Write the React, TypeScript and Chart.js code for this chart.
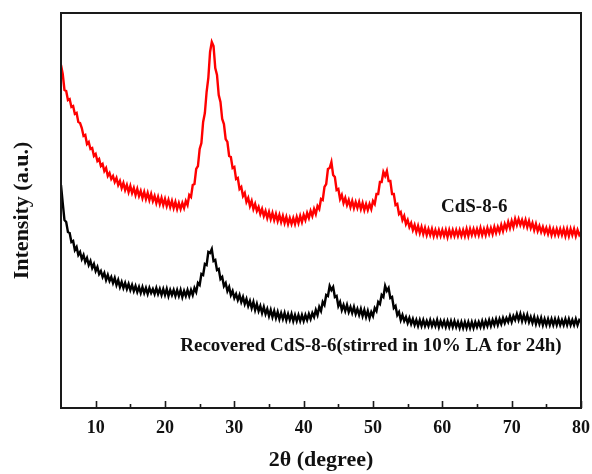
import React, { useEffect, useRef } from "react";
import { Chart, registerables } from "chart.js";

Chart.register(...registerables);

// 2θ grid (degree): scan from 5° to 80° in 0.25° steps
const ANGLE_START = 5;
const ANGLE_STEP = 0.25;

// CdS-8-6 (red) intensity, a.u., 4 points per degree
const cdsIntensity = [
  343, 334, 318, 317, 308, 309, 301, 302, 294, 295, 286, 285, 280, 272, 273, 264,
  266, 259, 260, 252, 254, 247, 249, 242, 244, 237, 240, 232, 235, 229, 232, 226,
  230, 223, 227, 220, 225, 218, 223, 216, 222, 215, 220, 213, 219, 212, 217, 210,
  216, 209, 215, 208, 214, 207, 212, 205, 211, 204, 210, 203, 209, 202, 208, 201,
  207, 200, 206, 199, 205, 199, 205, 200, 207, 203, 213, 211, 223, 224, 239, 242,
  259, 265, 286, 295, 316, 330, 356, 366, 362, 340, 333, 313, 306, 289, 284, 269,
  266, 252, 251, 240, 241, 229, 230, 219, 221, 212, 215, 206, 210, 202, 207, 199,
  204, 197, 201, 194, 199, 192, 197, 190, 196, 189, 195, 188, 194, 187, 193, 186,
  192, 185, 191, 184, 190, 184, 190, 184, 191, 185, 192, 186, 193, 188, 195, 190,
  197, 192, 199, 194, 202, 199, 209, 208, 221, 224, 239, 240, 246, 233, 231, 218,
  219, 209, 213, 205, 210, 203, 208, 201, 207, 200, 206, 200, 206, 199, 205, 198,
  204, 198, 204, 199, 207, 204, 214, 214, 226, 226, 236, 232, 237, 227, 227, 214,
  214, 203, 204, 194, 196, 188, 192, 184, 188, 181, 185, 178, 183, 176, 182, 175,
  181, 174, 180, 173, 179, 173, 179, 172, 178, 172, 178, 172, 178, 172, 178, 171,
  178, 172, 178, 172, 178, 172, 178, 172, 178, 172, 179, 172, 179, 173, 179, 173,
  179, 173, 180, 173, 179, 173, 180, 174, 180, 174, 181, 175, 181, 176, 183, 177,
  184, 179, 186, 180, 187, 181, 189, 183, 189, 183, 188, 182, 188, 181, 187, 180,
  185, 178, 184, 177, 182, 176, 181, 175, 180, 174, 180, 173, 179, 173, 179, 173,
  179, 173, 179, 172, 179, 172, 179, 173, 179, 172, 178, 173, 176,
];

// Recovered CdS-8-6 (black) intensity, a.u.
const recoveredIntensity = [
  223, 205, 188, 186, 176, 175, 166, 167, 158, 161, 153, 156, 149, 153, 146, 150,
  143, 147, 140, 144, 137, 141, 134, 137, 131, 135, 128, 133, 127, 131, 125, 130,
  123, 128, 121, 126, 120, 125, 119, 124, 118, 123, 117, 122, 116, 121, 115, 121,
  115, 120, 114, 120, 115, 119, 114, 120, 114, 119, 113, 119, 113, 119, 112, 118,
  113, 118, 112, 118, 112, 118, 111, 117, 112, 118, 112, 118, 113, 120, 116, 125,
  123, 134, 133, 144, 143, 156, 155, 159, 147, 148, 138, 139, 129, 131, 122, 125,
  117, 121, 113, 117, 110, 114, 108, 113, 106, 111, 104, 109, 102, 107, 100, 106,
  98, 104, 97, 102, 95, 101, 94, 99, 92, 98, 91, 97, 90, 96, 89, 95,
  89, 95, 88, 94, 88, 94, 87, 93, 87, 93, 87, 93, 87, 93, 88, 94,
  89, 95, 91, 98, 93, 101, 97, 106, 103, 113, 112, 122, 118, 121, 111, 112,
  102, 106, 98, 103, 97, 103, 96, 101, 95, 101, 94, 99, 93, 99, 92, 98,
  91, 97, 90, 96, 92, 100, 97, 106, 104, 113, 111, 122, 117, 120, 110, 111,
  100, 102, 93, 96, 88, 93, 87, 91, 85, 90, 84, 89, 83, 88, 82, 88,
  82, 88, 82, 87, 82, 88, 82, 87, 82, 88, 81, 87, 82, 87, 81, 87,
  81, 87, 81, 87, 81, 86, 80, 86, 80, 86, 80, 86, 80, 86, 80, 86,
  81, 86, 81, 87, 81, 87, 82, 88, 82, 88, 83, 89, 83, 89, 84, 90,
  85, 90, 86, 92, 86, 92, 88, 94, 88, 94, 87, 93, 87, 93, 86, 91,
  85, 91, 84, 90, 84, 90, 83, 89, 83, 89, 83, 89, 83, 89, 83, 89,
  83, 88, 83, 89, 83, 89, 83, 88, 83, 89, 83, 88, 86,
];

const seriesNames = ["CdS-8-6", "Recovered CdS-8-6(stirred in 10% LA for 24h)"];
const seriesColors = ["#ff0000", "#000000"];

const majorTicks = [10, 20, 30, 40, 50, 60, 70, 80];
const minorTicks = [15, 25, 35, 45, 55, 65, 75];

// label anchors in data units (2θ, intensity) – left / middle aligned
const labelAngles = [59.8, 22.2];
const labelIntensities = [201, 62];

const X_MIN = 5;
const X_MAX = 80;
const Y_MIN = 0;
const Y_MAX = 395;

const FONT = "'Liberation Serif', 'Times New Roman', Times, serif";

export default function App() {
  const canvasRef = useRef<HTMLCanvasElement | null>(null);

  useEffect(() => {
    const canvas = canvasRef.current;
    if (!canvas) return;

    const toPoints = (arr: number[]) =>
      arr.map((v, i) => ({ x: ANGLE_START + i * ANGLE_STEP, y: v }));

    const framePlugin = {
      id: "frameAndLabels",
      afterDatasetsDraw(chart: any) {
        const { ctx, chartArea } = chart;
        const xs = chart.scales.x;
        const ys = chart.scales.y;
        ctx.save();
        // frame
        ctx.strokeStyle = "#1a1a1a";
        ctx.lineWidth = 2;
        ctx.strokeRect(
          chartArea.left,
          chartArea.top,
          chartArea.right - chartArea.left,
          chartArea.bottom - chartArea.top
        );
        // inward ticks
        ctx.lineWidth = 1.6;
        ctx.beginPath();
        majorTicks.forEach((v) => {
          const px = Math.round(xs.getPixelForValue(v)) + 0.5;
          ctx.moveTo(px, chartArea.bottom);
          ctx.lineTo(px, chartArea.bottom - 7);
        });
        minorTicks.forEach((v) => {
          const px = Math.round(xs.getPixelForValue(v)) + 0.5;
          ctx.moveTo(px, chartArea.bottom);
          ctx.lineTo(px, chartArea.bottom - 4);
        });
        ctx.stroke();
        // series labels
        ctx.fillStyle = "#111";
        ctx.font = `bold 19px ${FONT}`;
        ctx.textAlign = "left";
        ctx.textBaseline = "middle";
        seriesNames.forEach((name, i) => {
          ctx.fillText(
            name,
            xs.getPixelForValue(labelAngles[i]),
            ys.getPixelForValue(labelIntensities[i])
          );
        });
        ctx.restore();
      },
    };

    const chart = new Chart(canvas, {
      type: "line",
      data: {
        datasets: [
          {
            label: seriesNames[0],
            data: toPoints(cdsIntensity),
            borderColor: seriesColors[0],
            borderWidth: 2.4,
            pointRadius: 0,
            tension: 0,
          },
          {
            label: seriesNames[1],
            data: toPoints(recoveredIntensity),
            borderColor: seriesColors[1],
            borderWidth: 2.4,
            pointRadius: 0,
            tension: 0,
          },
        ],
      },
      options: {
        responsive: false,
        animation: false,
        events: [],
        layout: { padding: { top: 13, right: 11, left: 0, bottom: 0 } },
        plugins: {
          legend: { display: false },
          tooltip: { enabled: false },
        },
        scales: {
          x: {
            type: "linear",
            min: X_MIN,
            max: X_MAX,
            grid: { display: false, drawTicks: false },
            border: { display: false },
            afterBuildTicks: (scale: any) => {
              scale.ticks = majorTicks.map((v) => ({ value: v }));
            },
            afterFit: (scale: any) => {
              scale.height = 66;
              scale.paddingLeft = 0;
              scale.paddingRight = 0;
            },
            ticks: {
              color: "#111",
              padding: 10,
              maxRotation: 0,
              font: { family: FONT, size: 18, weight: "bold" },
            },
            title: {
              display: true,
              text: "2θ (degree)",
              color: "#111",
              padding: { top: 0, bottom: 0 },
              font: { family: FONT, size: 22, weight: "bold" },
            },
          },
          y: {
            type: "linear",
            min: Y_MIN,
            max: Y_MAX,
            grid: { display: false, drawTicks: false },
            border: { display: false },
            ticks: { display: false },
            afterFit: (scale: any) => {
              scale.width = 61;
              scale.paddingTop = 0;
              scale.paddingBottom = 0;
            },
            title: {
              display: true,
              text: "Intensity (a.u.)",
              color: "#111",
              padding: { top: 9, bottom: 0 },
              font: { family: FONT, size: 22, weight: "bold" },
            },
          },
        },
      },
      plugins: [framePlugin],
    });

    return () => chart.destroy();
  }, []);

  return (
    <div style={{ position: "absolute", left: 0, top: 0, width: 592, height: 474, background: "#fff" }}>
      <canvas ref={canvasRef} width={592} height={474} />
    </div>
  );
}
